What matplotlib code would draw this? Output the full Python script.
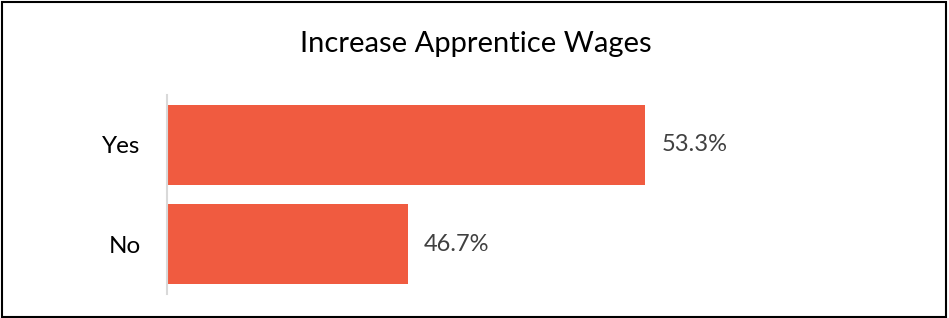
import matplotlib
matplotlib.use("Agg")
import matplotlib.pyplot as plt
import matplotlib.patches as mpatches

plt.rcParams['font.family'] = ['Lato', 'DejaVu Sans']

categories = ["No", "Yes"]
values = [46.7, 53.3]
labels = ["46.7%", "53.3%"]
title = "Increase Apprentice Wages"

BAR = "#F05B40"

fig = plt.figure(figsize=(9.49, 3.18), dpi=100)
ax = fig.add_axes([167/949, 24/318, (886-167)/949, (294-95)/318])

y = range(len(categories))
ax.barh(y, values, height=0.8, color=BAR, left=0)
ax.set_xlim(40, 60)
ax.set_ylim(-0.5, 1.5)

for i, v in enumerate(values):
    ax.text(v + 0.45, i, labels[i], va="center", ha="left",
            fontsize=17, color="#404040")

ax.set_yticks(list(y))
ax.set_yticklabels(categories, fontsize=17.5, color="black")
ax.tick_params(axis="y", length=0, pad=19)
ax.set_xticks([])
for s in ["top", "right", "bottom"]:
    ax.spines[s].set_visible(False)
ax.spines["left"].set_color("#d9d9d9")
ax.spines["left"].set_linewidth(1.5)

fig.text(476/949, 1 - 44/318, title, ha="center", va="center",
         fontsize=21, color="black")

# black frame round the chart
fig.patches.append(mpatches.Rectangle((0.002, 0.004), 0.995, 0.99,
                   transform=fig.transFigure, fill=False,
                   edgecolor="black", linewidth=1.5))

fig.savefig("out.png", dpi=100)
print("saved out.png")
